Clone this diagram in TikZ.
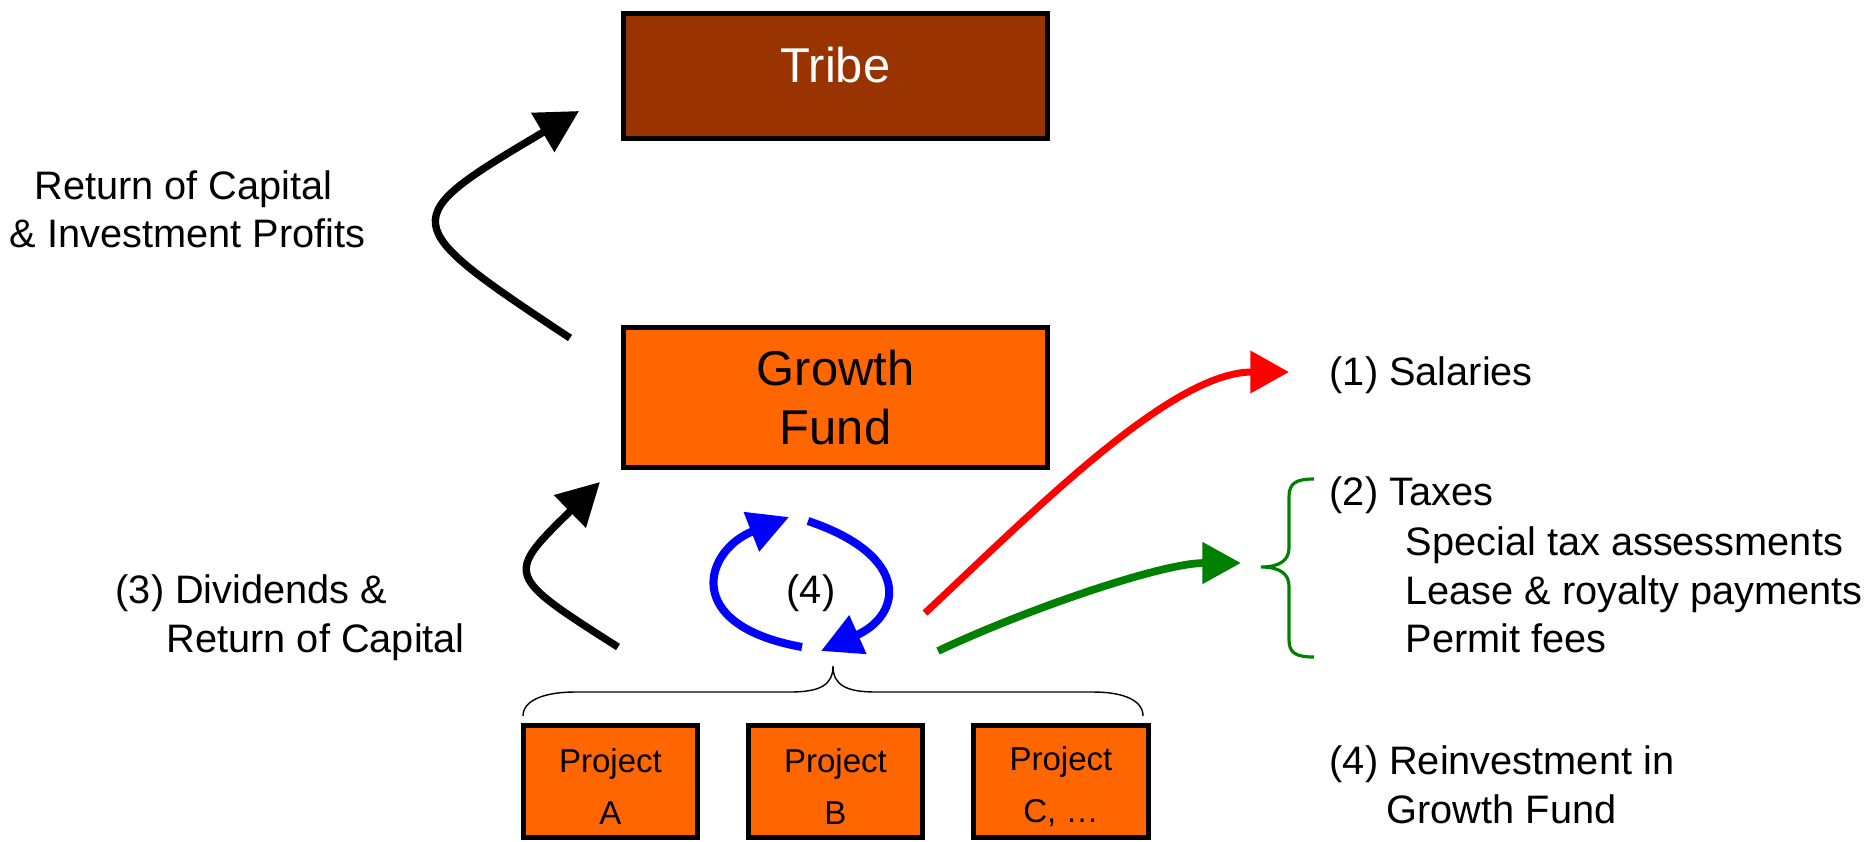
\documentclass[tikz,border=0pt]{standalone}
\usepackage{fontspec}
\setmainfont{Liberation Sans}
\usetikzlibrary{arrows.meta}
\definecolor{tribebrown}{HTML}{993300}
\definecolor{fundorange}{HTML}{FF6600}
\definecolor{taxgreen}{HTML}{008000}
\definecolor{loopblue}{HTML}{0000FF}
\definecolor{salred}{HTML}{FF0000}
\begin{document}
\begin{tikzpicture}[x=0.01cm, y=-0.01cm,
  box/.style={draw=black, line width=1.4pt, inner sep=0pt, align=center},
  bigtext/.style={font=\fontsize{13.9pt}{16.8pt}\selectfont},
  smalltext/.style={font=\fontsize{9.4pt}{14.6pt}\selectfont},
  lbl/.style={inner sep=0pt, font=\fontsize{11.3pt}{13.7pt}\selectfont},
  blackarrow/.style={draw=black, line width=2.1pt, -{Triangle[length=12pt,width=12.5pt]}},
  bluearrow/.style={draw=loopblue, line width=2.3pt, -{Triangle[length=11.5pt,width=11.5pt]}},
  redarrow/.style={draw=salred, line width=2pt, -{Triangle[length=11pt,width=11.7pt]}},
  greenarrow/.style={draw=taxgreen, line width=2.2pt, -{Triangle[length=11pt,width=11.4pt]}},
  bracegreen/.style={draw=taxgreen, line width=0.9pt},
  braceblack/.style={draw=black, line width=0.4pt}
]
\useasboundingbox (0,0) rectangle (1871,841);

% boxes
\node[box, fill=tribebrown, text=white, bigtext, minimum width=4.244cm, minimum height=1.254cm, text depth=0.22cm] (tribe) at (835.5,76) {Tribe};
\node[box, fill=fundorange, bigtext, minimum width=4.244cm, minimum height=1.404cm] (fund) at (835.5,397.5) {Growth\\Fund};
\node[box, fill=fundorange, smalltext, minimum width=1.74cm, minimum height=1.124cm] (pa) at (610.5,781.5) {\rule{0pt}{0.34cm}Project\\A};
\node[box, fill=fundorange, smalltext, minimum width=1.74cm, minimum height=1.124cm] (pb) at (835.5,781.5) {\rule{0pt}{0.34cm}Project\\B};
\node[box, fill=fundorange, smalltext, minimum width=1.74cm, minimum height=1.124cm] (pc) at (1061,781.5) {\rule{0pt}{0.34cm}Project\\C, …};

% labels
\node[lbl, anchor=base] (roc1) at (183.5,199) {Return of Capital};
\node[lbl, anchor=base] (roc2) at (187.5,247) {\& Investment Profits};
\node[lbl, anchor=base west] (div1) at (115,603) {(3) Dividends \&};
\node[lbl, anchor=base west] (div2) at (166,652) {Return of Capital};
\node[lbl, anchor=base west] (sal) at (1329,385) {(1) Salaries};
\node[lbl, anchor=base west] (tax) at (1329,505) {(2) Taxes};
\node[lbl, anchor=base west] (tax1) at (1405,555) {Special tax assessments};
\node[lbl, anchor=base west] (tax2) at (1405,604) {Lease \& royalty payments};
\node[lbl, anchor=base west] (tax3) at (1405,652) {Permit fees};
\node[lbl, anchor=base west] (re1) at (1329,774) {(4) Reinvestment in};
\node[lbl, anchor=base west] (re2) at (1386,823) {Growth Fund};
\node[lbl, anchor=base] (four) at (811,603) {(4)};

% arrow end points
\coordinate (rcS) at (570,338);
\coordinate (rcT) at (579,111);
\coordinate (dvS) at (618,647);
\coordinate (dvT) at (600,482);
\coordinate (blS) at (802,647);
\coordinate (blT) at (789,517);
\coordinate (brS) at (808,521);
\coordinate (brT) at (821,651);
\coordinate (rdS) at (925,613);
\coordinate (rdT) at (1289,372);
\coordinate (gnS) at (938,651);
\coordinate (gnT) at (1241,563);

% arrows
\draw[blackarrow] (rcS) .. controls (395,222) and (395,220) .. (rcT);
\draw[blackarrow] (dvS) .. controls (505,575) and (505,575) .. (dvT);
\draw[bluearrow] (blS) .. controls (680,625) and (705,550) .. (blT);
\draw[bluearrow] (brS) .. controls (912,556) and (902,615) .. (brT);
\draw[redarrow] (rdS) .. controls (1030,515) and (1170,372) .. (rdT);
\draw[greenarrow] (gnS) .. controls (1020,612) and (1160,563) .. (gnT);

% green brace
\coordinate (gbTop) at (1314,479);
\coordinate (gbTip) at (1261,567);
\coordinate (gbBot) at (1314,657);
\draw[bracegreen] (gbTop) .. controls (1296,479) and (1289,483) .. (1289,497) -- (1289,548)
  .. controls (1289,560) and (1280,567) .. (gbTip)
  .. controls (1280,567) and (1289,574) .. (1289,586) -- (1289,640)
  .. controls (1289,653) and (1296,657) .. (gbBot);

% project brace
\coordinate (pbL) at (523,716);
\coordinate (pbTip) at (833,666);
\coordinate (pbR) at (1143,716);
\draw[braceblack] (pbL) .. controls (523,700) and (545,692) .. (575,692) -- (790,692)
  .. controls (820,692) and (833,685) .. (pbTip)
  .. controls (833,685) and (846,692) .. (876,692) -- (1093,692)
  .. controls (1123,692) and (1143,700) .. (pbR);
\end{tikzpicture}
\end{document}
